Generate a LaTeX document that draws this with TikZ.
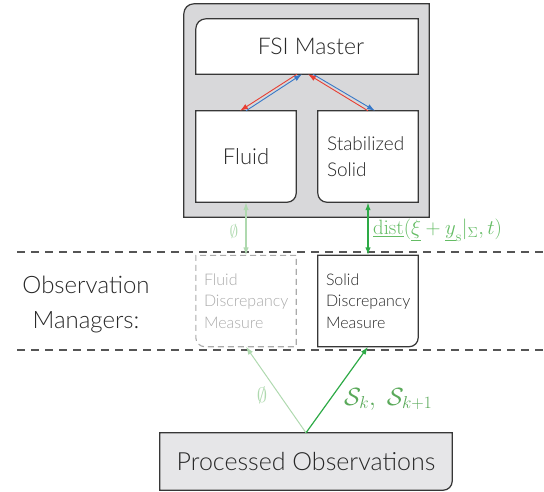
\documentclass[tikz,border=0pt]{standalone}
\usepackage[no-math]{fontspec}
\setmainfont{Lato}[UprightFont={* Light}]
\usetikzlibrary{arrows.meta}
\definecolor{boxgray}{RGB}{216,216,218}
\definecolor{procgray}{RGB}{230,230,232}
\definecolor{edge}{RGB}{55,55,55}
\definecolor{txt}{RGB}{40,40,40}
\definecolor{ghost}{RGB}{170,170,170}
\definecolor{lgreen}{RGB}{175,217,175}
\definecolor{dgreen}{RGB}{45,170,70}
\definecolor{mgreen}{RGB}{100,188,100}
\definecolor{ared}{RGB}{232,62,50}
\definecolor{ablue}{RGB}{55,120,200}
\pgfdeclarelayer{bg}
\pgfsetlayers{bg,main}
\tikzset{
  boxnode/.style={inner sep=0pt, minimum width=100pt, minimum height=91pt, text=txt},
  outline/.style={draw=edge, line width=1.2pt, fill=white},
  ghostline/.style={draw=ghost, line width=1.1pt, dash pattern=on 6pt off 4pt},
  sep/.style={draw=edge!85, line width=1.1pt, dash pattern=on 8pt off 6pt},
  tip/.style={-{Latex[length=8pt,width=5.5pt]}},
  redarr/.style={tip, ared, line width=0.9pt},
  bluearr/.style={tip, ablue, line width=0.9pt},
}
\begin{document}
\begin{tikzpicture}[x=1pt,y=-1pt]
\useasboundingbox (0,0) rectangle (544,491);
% nodes
\node[inner sep=0pt, minimum width=245pt, minimum height=213pt] (fsi) at (306.5,110.5) {};
\node[inner sep=0pt, minimum width=222pt, minimum height=55pt, text=txt, font=\fontsize{23}{26}\selectfont] (master) at (307,46.5) {\hspace*{8pt}FSI Master};
\node[boxnode, font=\fontsize{22}{26}\selectfont] (fluid) at (246,156.5) {Fluid};
\node[boxnode, text width=82pt, inner xsep=9pt, align=left, font=\fontsize{19}{26}\selectfont] (solid) at (368,156.5) {Stabilized\\Solid};
\node[boxnode, text=ghost, text width=84pt, inner xsep=8pt, align=left, font=\fontsize{16}{21.5}\selectfont] (fluiddisc) at (246,301) {Fluid\\Discrepancy\\Measure};
\node[boxnode, text width=84pt, inner xsep=8pt, align=left, font=\fontsize{16}{21.5}\selectfont] (soliddisc) at (368,301) {Solid\\Discrepancy\\Measure};
\node[inner sep=0pt, minimum width=292pt, minimum height=57pt, text=txt, font=\fontsize{25}{30}\selectfont] (proc) at (306,461.5) {Processed Observations};
\node[text=txt, align=center, font=\fontsize{24}{35}\selectfont] (obs) at (86,304) {Observation\\Managers:};

% outlines
\begin{pgfonlayer}{bg}
\draw[outline, fill=boxgray] (fsi.south west) -- ([yshift=-10pt]fsi.north west) arc[start angle=180,end angle=90,radius=10pt] -- (fsi.north east) -- (fsi.south east) -- cycle;
\draw[outline] (master.south west) -- ([yshift=-10pt]master.north west) arc[start angle=180,end angle=90,radius=10pt] -- (master.north east) -- (master.south east) -- cycle;
\draw[outline] (fluid.north west) -- (fluid.north east) -- ([yshift=9pt]fluid.south east) arc[start angle=0,end angle=-90,radius=9pt] -- (fluid.south west) -- cycle;
\draw[outline] (solid.north east) -- (solid.north west) -- ([yshift=9pt]solid.south west) arc[start angle=180,end angle=270,radius=9pt] -- (solid.south east) -- cycle;
\draw[ghostline] (fluiddisc.north east) -- (fluiddisc.north west) -- ([yshift=9pt]fluiddisc.south west) arc[start angle=180,end angle=270,radius=9pt] -- (fluiddisc.south east) -- cycle;
\draw[outline] (soliddisc.north west) -- (soliddisc.north east) -- ([yshift=9pt]soliddisc.south east) arc[start angle=0,end angle=-90,radius=9pt] -- (soliddisc.south west) -- cycle;
\draw[outline, fill=procgray] (proc.north west) -- (proc.north east) -- ([yshift=9pt]proc.south east) arc[start angle=0,end angle=-90,radius=9pt] -- (proc.south west) -- cycle;
\end{pgfonlayer}

% separators
\coordinate (s1l) at (17,252); \coordinate (s1r) at (544,252);
\coordinate (s2l) at (17,350); \coordinate (s2r) at (544,350);
\draw[sep] (s1l) -- (s1r);
\draw[sep] (s2l) -- (s2r);

% master <-> solvers
\draw[redarr] ([xshift=-10pt]master.south) -- ([xshift=-6pt]fluid.north);
\draw[bluearr] (fluid.north) -- ([xshift=-5pt]master.south);
\draw[redarr] (solid.north) -- ([xshift=1pt]master.south);
\draw[bluearr] ([xshift=6pt]master.south) -- ([xshift=7pt]solid.north);

% solver <-> discrepancy
\draw[{Latex[length=8pt,width=5.5pt]}-{Latex[length=8pt,width=5.5pt]}, lgreen, line width=1.2pt] (fluid.south) -- (fluiddisc.north);
\draw[{Latex[length=8pt,width=5.5pt]}-{Latex[length=8pt,width=5.5pt]}, dgreen, line width=1.6pt] (solid.south) -- (soliddisc.north);
\node[text=lgreen, font=\fontsize{17}{19}\selectfont] (e1) at (234,231) {$\emptyset$};
\node[text=mgreen, anchor=west, inner sep=0pt, font=\fontsize{21}{24}\selectfont] (dist) at (373,230) {$\underline{\mathrm{dist}}(\underline{\xi}+\underline{y}_{\mathrm{s}}|_{\Sigma},t)$};

% observations -> discrepancy
\draw[tip, lgreen, line width=1.0pt] (proc.north) -- (fluiddisc.south);
\draw[tip, dgreen, line width=1.2pt] (proc.north) -- (soliddisc.south);
\node[text=lgreen, font=\fontsize{21}{24}\selectfont] (e2) at (262,395) {$\emptyset$};
\node[text=mgreen!90!black, anchor=west, inner sep=0pt, font=\fontsize{24}{28}\selectfont] (sk) at (344,399) {$\mathcal{S}_k,\;\mathcal{S}_{k+1}$};
\end{tikzpicture}
\end{document}
